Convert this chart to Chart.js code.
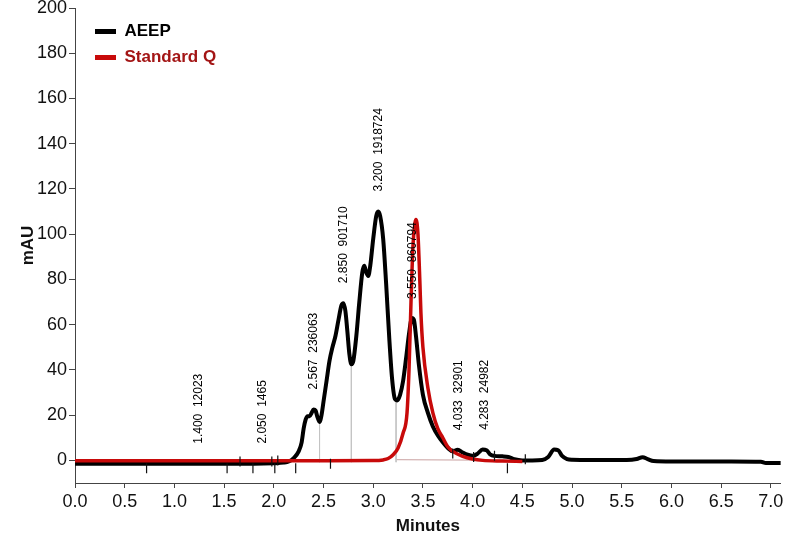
<!DOCTYPE html>
<html>
<head>
<meta charset="utf-8">
<script src="https://cdn.jsdelivr.net/npm/chart.js@4.4.1/dist/chart.umd.min.js"></script>
<style>
  body { margin: 0; background: #fff; }
  canvas { display: block; }
</style>
</head>
<body>
<canvas id="myChart" width="787" height="537"></canvas>
<script>
// retention time (min) / absorbance (mAU)
var aeepTime = [0.00, 0.50, 1.00, 1.50, 1.80, 2.00, 2.10, 2.15, 2.20, 2.25, 2.28, 2.30, 2.32, 2.34, 2.36, 2.38, 2.40, 2.42, 2.44, 2.46,
    2.48, 2.50, 2.53, 2.56, 2.59, 2.62, 2.65, 2.68, 2.70, 2.72, 2.74, 2.76, 2.78, 2.80, 2.83, 2.86, 2.89, 2.91, 2.93, 2.95,
    2.97, 3.00, 3.03, 3.05, 3.07, 3.10, 3.13, 3.16, 3.19, 3.22, 3.24, 3.27, 3.30, 3.33, 3.36, 3.39, 3.41, 3.43, 3.46, 3.50,
    3.55, 3.60, 3.65, 3.70, 3.75, 3.80, 3.85, 3.90, 3.95, 4.00, 4.05, 4.10, 4.14, 4.18, 4.22, 4.30, 4.36, 4.42, 4.50, 4.60,
    4.70, 4.76, 4.82, 4.86, 4.90, 4.95, 5.00, 5.20, 5.40, 5.55, 5.65, 5.71, 5.76, 5.82, 6.00, 6.30, 6.60, 6.90, 6.95, 7.10]
var aeepAbs = [-1.5, -1.5, -1.5, -1.5, -1.5, -1.3, -1.0, -0.5, 1.0, 4.0, 8.0, 14.0, 18.0, 19.5, 19.5, 21.0, 22.5, 22.0, 19.0, 17.0,
    20.0, 26.0, 35.0, 44.0, 50.0, 55.0, 62.0, 68.5, 69.5, 66.0, 57.0, 47.0, 42.5, 44.0, 55.0, 70.0, 83.0, 86.0, 83.0, 81.5,
    86.0, 98.0, 108.0, 110.0, 108.0, 98.0, 78.0, 55.0, 36.0, 27.0, 26.5, 29.0, 35.0, 45.0, 56.0, 63.0, 62.0, 55.0, 42.0, 29.0,
    21.0, 15.0, 11.0, 8.0, 5.5, 4.0, 4.7, 3.5, 2.5, 2.0, 3.0, 4.8, 4.5, 2.5, 2.0, 1.8, 1.5, 0.5, 0.0, 0.0,
    0.2, 1.5, 4.8, 4.5, 2.0, 0.6, 0.3, 0.2, 0.2, 0.2, 0.6, 1.4, 0.6, -0.3, -0.5, -0.5, -0.5, -0.6, -1.2, -1.2]

var stdTime = [0.00, 1.00, 2.00, 2.50, 3.00, 3.10, 3.15, 3.20, 3.25, 3.30, 3.34, 3.36, 3.38, 3.40, 3.42, 3.43, 3.45, 3.47, 3.48, 3.50,
    3.55, 3.60, 3.65, 3.70, 3.75, 3.80, 3.90, 4.00, 4.10, 4.30, 4.50]
var stdAbs = [-0.2, -0.2, -0.2, -0.2, -0.1, 0.2, 0.8, 2.5, 5.5, 12.0, 21.0, 40.0, 70.0, 95.0, 105.0, 106.5, 100.0, 78.0, 65.0, 50.0,
    32.0, 21.0, 14.0, 10.0, 6.0, 4.0, 1.8, 0.6, 0.0, -0.3, -0.5]

// integrated peaks: retention time, area, apex position used for the label
var peakRT = ['1.400', '2.050', '2.567', '2.850', '3.200', '3.550', '4.033', '4.283']
var peakArea = ['12023', '1465', '236063', '901710', '1918724', '860794', '32901', '24982']
var peakApex = [1.24, 1.89, 2.40, 2.70, 3.05, 3.40, 3.86, 4.12]

// drop lines and peak start/end markers of the integrator
var dropTime = [2.46, 2.78, 3.23]
var dropTop = [17.0, 42.5, 26.5]
var markerTime = [0.72, 1.53, 1.66, 1.79, 1.98, 2.01, 2.04, 2.22, 2.57, 3.80, 4.01, 4.22, 4.35, 4.53]
var markerLevel = [-3.5, -3.5, -0.5, -3.5, -0.5, -3.5, 0, -3.5, -1.5, 3, 1.5, 2, -3.5, 0.5]
var baseTime = [3.23, 4.53]
var baseAbs = [0.3, 0.0]

var xTicks = [0, 0.5, 1, 1.5, 2, 2.5, 3, 3.5, 4, 4.5, 5, 5.5, 6, 6.5, 7]
var yTicks = [0, 20, 40, 60, 80, 100, 120, 140, 160, 180, 200]

function pairs(xs, ys){
    return xs.map(function(x, i){ return {x: x, y: ys[i]} })
}

function dropData(){
    var out = []
    dropTime.forEach(function(t, i){
        out.push({x: t, y: dropTop[i]})
        out.push({x: t, y: -0.8})
        out.push({x: t, y: null})
    })
    return out
}

function apexValue(t){
    for (var i = 1; i < aeepTime.length; i++) {
        if (aeepTime[i] >= t) {
            var f = (t - aeepTime[i-1]) / (aeepTime[i] - aeepTime[i-1])
            return aeepAbs[i-1] + f * (aeepAbs[i] - aeepAbs[i-1])
        }
    }
    return 0
}

var peakLabels = {
    id: 'peakLabels',
    afterLayout: function(chart){
        // nudge the in-plot legend away from the axes
        chart.legend.left += 11
        chart.legend.top += 14
    },
    afterDatasetsDraw: function(chart){
        var ctx = chart.ctx
        var xs = chart.scales.x, ys = chart.scales.y
        ctx.save()
        ctx.fillStyle = '#000'
        ctx.font = '12px "Liberation Sans", Arial, sans-serif'
        ctx.textAlign = 'left'
        ctx.textBaseline = 'middle'
        peakRT.forEach(function(rt, i){
            var px = xs.getPixelForValue(peakApex[i])
            var py = ys.getPixelForValue(apexValue(peakApex[i])) - 20
            ctx.save()
            ctx.translate(px, py)
            ctx.rotate(-Math.PI / 2)
            ctx.fillText(rt + '  ' + peakArea[i], 0, 0)
            ctx.restore()
        })
        ctx.restore()
    }
}

var ctx = document.getElementById('myChart').getContext('2d')
var chart = new Chart(ctx, {
    type: 'line',
    data: {
        datasets: [{
            label: 'Standard Q',
            data: pairs(stdTime, stdAbs),
            borderColor: '#c80a0a',
            backgroundColor: '#c80a0a',
            borderWidth: 3.5,
            pointRadius: 0,
            cubicInterpolationMode: 'monotone',
            order: 0
        }, {
            label: 'AEEP',
            data: pairs(aeepTime, aeepAbs),
            borderColor: '#000',
            backgroundColor: '#000',
            borderWidth: 4,
            pointRadius: 0,
            cubicInterpolationMode: 'monotone',
            order: 1
        }, {
            label: 'drop',
            data: dropData(),
            borderColor: '#c4c4c4',
            borderWidth: 1,
            pointRadius: 0,
            spanGaps: false,
            order: 2
        }, {
            label: 'base',
            data: pairs(baseTime, baseAbs),
            borderColor: '#c9a0a0',
            borderWidth: 1,
            pointRadius: 0,
            order: 3
        }, {
            label: 'markers',
            data: pairs(markerTime, markerLevel),
            showLine: false,
            pointStyle: 'line',
            rotation: 90,
            pointRadius: 5,
            borderColor: '#111',
            borderWidth: 1.2,
            order: -1
        }]
    },
    options: {
        responsive: false,
        animation: false,
        layout: { padding: { top: 0, right: 4, left: 0, bottom: 0 } },
        plugins: {
            tooltip: { enabled: false },
            legend: {
                position: 'chartArea',
                align: 'start',
                labels: {
                    boxWidth: 21,
                    boxHeight: 5,
                    padding: 9,
                    font: { family: '"Liberation Sans", Arial, sans-serif', size: 17, weight: 'bold' },
                    generateLabels: function(chart){
                        return [
                            { text: 'AEEP', fillStyle: '#000', strokeStyle: '#000', lineWidth: 0, fontColor: '#000', datasetIndex: 1 },
                            { text: 'Standard Q', fillStyle: '#c80a0a', strokeStyle: '#c80a0a', lineWidth: 0, fontColor: '#a31515', datasetIndex: 0 }
                        ]
                    }
                }
            }
        },
        scales: {
            x: {
                type: 'linear',
                min: 0,
                max: 7.1,
                afterBuildTicks: function(scale){ scale.ticks = xTicks.map(function(v){ return {value: v} }) },
                afterFit: function(scale){ scale.height = 54 },
                grid: { display: true, drawOnChartArea: false, tickLength: 5, color: '#444' },
                border: { display: true, color: '#444', width: 1 },
                ticks: {
                    color: '#111',
                    padding: 3,
                    maxRotation: 0,
                    font: { family: '"Liberation Sans", Arial, sans-serif', size: 18 },
                    callback: function(v){ return Number(v).toFixed(1) }
                },
                title: {
                    display: true,
                    text: 'Minutes',
                    color: '#111',
                    padding: { top: 0, bottom: 0 },
                    font: { family: '"Liberation Sans", Arial, sans-serif', size: 17, weight: 'bold' }
                }
            },
            y: {
                type: 'linear',
                min: -10,
                max: 200,
                afterBuildTicks: function(scale){ scale.ticks = yTicks.map(function(v){ return {value: v} }) },
                afterFit: function(scale){ scale.width = 75; scale.paddingTop = 8 },
                grid: { display: true, drawOnChartArea: false, tickLength: 6, color: '#444' },
                border: { display: true, color: '#444', width: 1 },
                ticks: {
                    color: '#111',
                    padding: 2,
                    font: { family: '"Liberation Sans", Arial, sans-serif', size: 18 }
                },
                title: {
                    display: true,
                    text: 'mAU',
                    color: '#111',
                    padding: { top: 18, bottom: 0 },
                    font: { family: '"Liberation Sans", Arial, sans-serif', size: 17, weight: 'bold' }
                }
            }
        }
    },
    plugins: [peakLabels]
})
</script>
</body>
</html>
